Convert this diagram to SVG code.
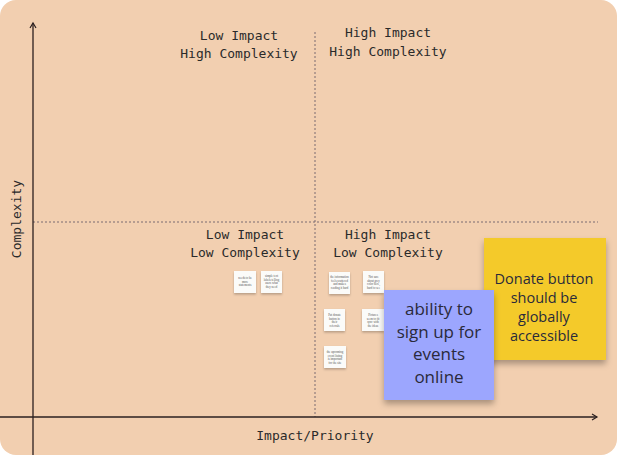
<svg xmlns="http://www.w3.org/2000/svg" width="617" height="455" viewBox="0 0 617 455">
<defs>
<style>
.q{font-family:"DejaVu Sans Mono","Liberation Mono",monospace;font-size:13px;fill:#2a2a2a;text-anchor:middle}
.s{font-family:"Open Sans","Noto Sans",sans-serif;fill:#2a2a3a;text-anchor:middle}
.t{font-family:"Liberation Serif",serif;font-size:3px;fill:#555;text-anchor:middle}
.sm{fill:#fbfbf9;filter:url(#sh)}
.ax{stroke:#2b2020;stroke-width:1.3;fill:none}
.dl{stroke:#7a6a70;stroke-width:1;stroke-dasharray:2 2;fill:none}
</style>
<filter id="sh" x="-20%" y="-20%" width="140%" height="150%">
<feDropShadow dx="0" dy="1.5" stdDeviation="1" flood-color="#000" flood-opacity="0.25"/>
</filter>
<filter id="bs" x="-20%" y="-20%" width="140%" height="140%">
<feDropShadow dx="0" dy="4" stdDeviation="3" flood-color="#000" flood-opacity="0.3"/>
</filter>
<marker id="ar" markerWidth="8" markerHeight="8" refX="6" refY="4" orient="auto" markerUnits="userSpaceOnUse">
<path d="M1,1 L6,4 L1,7" fill="none" stroke="#2b2020" stroke-width="1.2"/>
</marker>
</defs>
<rect x="0" y="0" width="617" height="455" rx="16" fill="#f2cfb0"/>
<g id="connectors">
<line class="dl" x1="33" y1="222" x2="598" y2="222"/>
<line class="dl" x1="315" y1="32" x2="315" y2="417"/>
<line class="ax" x1="33" y1="455" x2="33" y2="23" marker-end="url(#ar)"/>
<line class="ax" x1="0" y1="417" x2="597" y2="417" marker-end="url(#ar)"/>
</g>
<g id="label-lihc"><text class="q" x="239" y="40">Low Impact</text><text class="q" x="239" y="58">High Complexity</text></g>
<g id="label-hihc"><text class="q" x="388" y="37">High Impact</text><text class="q" x="388" y="56">High Complexity</text></g>
<g id="label-lilc"><text class="q" x="245" y="239">Low Impact</text><text class="q" x="245" y="257">Low Complexity</text></g>
<g id="label-hilc"><text class="q" x="388" y="239">High Impact</text><text class="q" x="388" y="257">Low Complexity</text></g>
<g id="axis-y-label"><text class="q" transform="translate(21,219) rotate(-90)">Complexity</text></g>
<g id="axis-x-label"><text class="q" x="315" y="440">Impact/Priority</text></g>
<g id="note1"><rect class="sm" x="234" y="271" width="22" height="22"/><text class="t" x="245" y="279">needs to be<tspan x="245" dy="3.5">more</tspan><tspan x="245" dy="3.5">statements</tspan></text></g>
<g id="note2"><rect class="sm" x="261" y="271" width="21" height="22"/><text class="t" x="271.5" y="277">simple text<tspan x="271.5" dy="3.5">labels telling</tspan><tspan x="271.5" dy="3.5">users what</tspan><tspan x="271.5" dy="3.5">they need</tspan></text></g>
<g id="note3"><rect class="sm" x="329" y="272" width="21" height="22"/><text class="t" x="339.5" y="278">the information<tspan x="339.5" dy="3.5">feels scattered</tspan><tspan x="339.5" dy="3.5">and makes</tspan><tspan x="339.5" dy="3.5">reading it hard</tspan></text></g>
<g id="note4"><rect class="sm" x="363" y="271" width="21" height="22"/><text class="t" x="373.5" y="278">Not sure<tspan x="373.5" dy="3.5">about grey</tspan><tspan x="373.5" dy="3.5">color here,</tspan><tspan x="373.5" dy="3.5">hard to see</tspan></text></g>
<g id="note5"><rect class="sm" x="324" y="309" width="21" height="22"/><text class="t" x="334.5" y="316">Put donate<tspan x="334.5" dy="3.5">button in</tspan><tspan x="334.5" dy="3.5">their</tspan><tspan x="334.5" dy="3.5">referrals</tspan></text></g>
<g id="note6"><rect class="sm" x="362" y="309" width="22" height="22"/><text class="t" x="373" y="316">Pictures<tspan x="373" dy="3.5">seem to fit</tspan><tspan x="373" dy="3.5">sync with</tspan><tspan x="373" dy="3.5">the ideas</tspan></text></g>
<g id="note7"><rect class="sm" x="324" y="346" width="22" height="22"/><text class="t" x="335" y="353">the upcoming<tspan x="335" dy="3.5">event listing</tspan><tspan x="335" dy="3.5">is important</tspan><tspan x="335" dy="3.5">for the site</tspan></text></g>
<g id="note-donate"><rect x="484" y="238" width="122" height="122" fill="#f4ca2b" filter="url(#bs)"/><text class="s" font-size="14.5" x="544" y="284">Donate button<tspan x="544" dy="19">should be</tspan><tspan x="544" dy="19">globally</tspan><tspan x="544" dy="19">accessible</tspan></text></g>
<g id="note-signup"><rect x="384" y="290" width="110" height="110" fill="#9ca6fe" filter="url(#bs)"/><text class="s" font-size="17" x="439" y="315">ability to<tspan x="439" dy="22.7">sign up for</tspan><tspan x="439" dy="22.7">events</tspan><tspan x="439" dy="22.7">online</tspan></text></g>
</svg>
